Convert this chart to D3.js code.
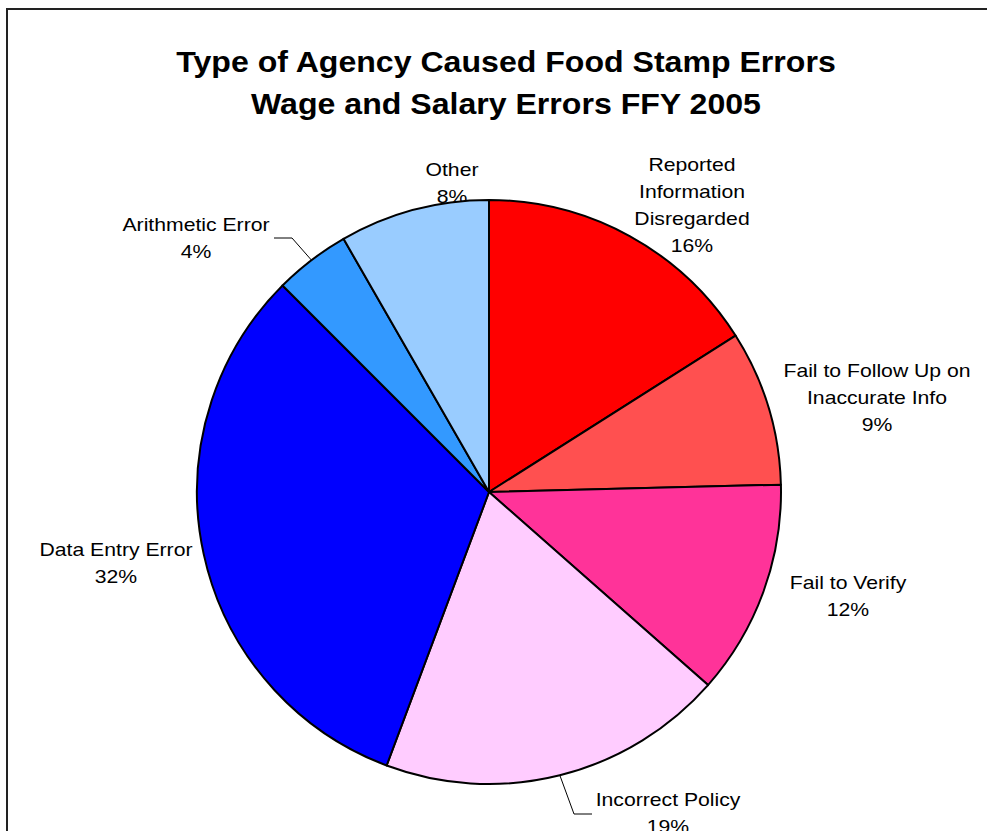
<!DOCTYPE html>
<html>
<head>
<meta charset="utf-8">
<script src="https://cdn.jsdelivr.net/npm/d3@7"></script>
<style>
    body { margin: 0; background: #fff; overflow: hidden; }
    text { font-family: "Liberation Sans", Arial, sans-serif; fill: #000; }
</style>
</head>
<body>
<div id="chart"></div>
<script>
// slices clockwise from 12 o'clock
const categories = ['Reported\nInformation\nDisregarded', 'Fail to Follow Up on\nInaccurate Info', 'Fail to Verify',
    'Incorrect Policy', 'Data Entry Error', 'Arithmetic Error', 'Other'];
const values = [16.0, 8.6, 11.9, 19.2, 31.8, 4.2, 8.3];
const colors = ['#ff0000', '#ff5050', '#ff3399', '#ffccff', '#0000ff', '#3399ff', '#99ccff'];
const titleLines = ['Type of Agency Caused Food Stamp Errors', 'Wage and Salary Errors FFY 2005'];

const width = 987, height = 831;
const cx = 489, cy = 492, radius = 292;
// label block placement (centre of first line, relative to pie centre) and leader lines
const labelPos = [[203, -327], [388, -121], [359, 91], [179, 308], [-373, 58], [-293, -267], [-37, -322]];
const leaders = {3: [[85, 322], [103, 322]], 5: [[-197, -254], [-215, -254]]};
const lineH = 27;
const labelStretch = 1.145, titleStretch = 1.07;

const svg = d3.select('#chart')
    .append('svg')
    .attr('width', width)
    .attr('height', height);

svg.append('rect')
    .attr('x', 7).attr('y', 9)
    .attr('width', width + 20).attr('height', height + 20)
    .attr('fill', 'none')
    .attr('stroke', '#222')
    .attr('stroke-width', 2);

svg.selectAll('.title')
    .data(titleLines)
    .enter()
    .append('g')
    .attr('class', 'title')
    .attr('transform', (d, i) => `translate(506,${72 + i * 42}) scale(${titleStretch},1)`)
    .append('text')
    .attr('text-anchor', 'middle')
    .style('font-size', '30px')
    .style('font-weight', 'bold')
    .text(d => d);

const pie = d3.pie().sort(null).value(d => d);
const arcs = pie(values);
const total = d3.sum(values);
const arc = d3.arc().innerRadius(0).outerRadius(radius);

const g = svg.append('g').attr('transform', `translate(${cx},${cy})`);

// labels first, the pie covers them where they touch
const labels = g.selectAll('.label')
    .data(arcs)
    .enter()
    .append('g')
    .attr('class', 'label')
    .attr('transform', (d, i) => `translate(${labelPos[i][0]},${labelPos[i][1] + 6}) scale(${labelStretch},1)`)
    .append('text')
    .attr('text-anchor', 'middle')
    .style('font-size', '18.5px');

labels.each(function (d, i) {
    const lines = categories[i].split('\n').concat([Math.round(d.value / total * 100) + '%']);
    d3.select(this).selectAll('tspan')
        .data(lines)
        .enter()
        .append('tspan')
        .attr('x', 0)
        .attr('y', (l, j) => j * lineH)
        .text(l => l);
});

g.selectAll('.leader')
    .data(arcs.filter((d, i) => leaders[i]))
    .enter()
    .append('polyline')
    .attr('class', 'leader')
    .attr('fill', 'none')
    .attr('stroke', '#000')
    .attr('stroke-width', 1)
    .attr('points', d => {
        const mid = (d.startAngle + d.endAngle) / 2;
        const edge = [radius * Math.sin(mid), -radius * Math.cos(mid)];
        return [edge].concat(leaders[d.index]).map(p => p.join(',')).join(' ');
    });

g.selectAll('.slice')
    .data(arcs)
    .enter()
    .append('path')
    .attr('class', 'slice')
    .attr('d', arc)
    .attr('fill', (d, i) => colors[i])
    .attr('stroke', '#000')
    .attr('stroke-width', 2)
    .attr('stroke-linejoin', 'round');
</script>
</body>
</html>
